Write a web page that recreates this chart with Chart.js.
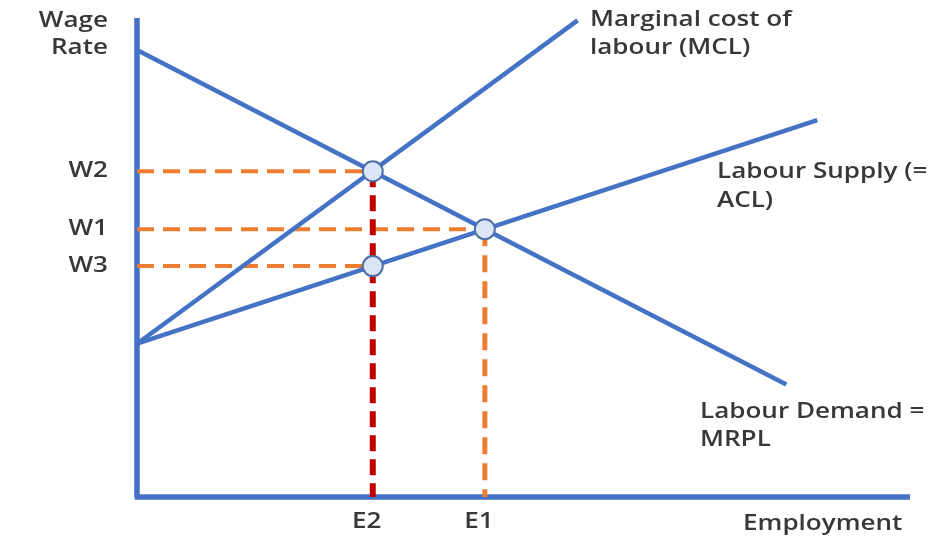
<!DOCTYPE html>
<html>
<head>
<meta charset="utf-8">
<script src="https://cdn.jsdelivr.net/npm/chart.js@4.4.1/dist/chart.umd.min.js"></script>
<style>
  body { margin: 0; background: #fff; }
  #wrap { width: 930px; height: 541px; }
</style>
</head>
<body>
<div id="wrap"><canvas id="labour" width="930" height="541"></canvas></div>
<script>
// wage levels and employment levels marked on the axes
const wageLabels = ['W2', 'W1', 'W3'];
const wageValues = [68, 55.9, 48.2];
const employLabels = ['E2', 'E1'];
const employValues = [30.5, 45];

// the three curves (end points, straight lines)
const demandLine = [{x: 0, y: 93.3}, {x: 84, y: 23.5}];
const mclLine = [{x: 0, y: 32}, {x: 57, y: 99.5}];
const supplyLine = [{x: 0, y: 32}, {x: 88, y: 78.7}];

const BLUE = '#4472C4';
const ORANGE = '#ED7D31';
const RED = '#C00000';

function seg(a, b) { return [a, b]; }

let W2 = wageValues[0], W1 = wageValues[1], W3 = wageValues[2];
let E2 = employValues[0], E1 = employValues[1];

let datasets = [];

// axes drawn as plain lines
datasets.push({ data: seg({x: 0, y: 0}, {x: 0, y: 100}), borderColor: BLUE, borderWidth: 5.5, order: 5 });
datasets.push({ data: seg({x: -0.3, y: 0}, {x: 100, y: 0}), borderColor: BLUE, borderWidth: 5.5, order: 5 });

// dashed guide lines
datasets.push({ data: seg({x: 0, y: W2}, {x: E2, y: W2}), borderColor: ORANGE, borderWidth: 4, borderDash: [17, 9], order: 4 });
datasets.push({ data: seg({x: 0, y: W1}, {x: E1, y: W1}), borderColor: ORANGE, borderWidth: 4, borderDash: [17, 9], order: 4 });
datasets.push({ data: seg({x: 0, y: W3}, {x: E2, y: W3}), borderColor: ORANGE, borderWidth: 4, borderDash: [17, 9], order: 4 });
datasets.push({ data: seg({x: E1, y: W1}, {x: E1, y: 0}), borderColor: ORANGE, borderWidth: 5, borderDash: [17, 9], order: 3 });
datasets.push({ data: seg({x: E2, y: W2}, {x: E2, y: 0}), borderColor: RED, borderWidth: 6, borderDash: [16, 8], order: 3 });

// the curves
datasets.push({ data: demandLine, borderColor: BLUE, borderWidth: 4.5, order: 2 });
datasets.push({ data: mclLine, borderColor: BLUE, borderWidth: 4.5, order: 2 });
datasets.push({ data: supplyLine, borderColor: BLUE, borderWidth: 4.5, order: 2 });

// intersection markers
datasets.push({
  data: [{x: E2, y: W2}, {x: E1, y: W1}, {x: E2, y: W3}],
  showLine: false,
  pointRadius: 10,
  pointBackgroundColor: '#DAE5F5',
  pointBorderColor: '#4F6FA8',
  pointBorderWidth: 2,
  order: 0
});

datasets.forEach(function (d) {
  if (d.pointRadius === undefined) d.pointRadius = 0;
  d.clip = false;
  d.fill = false;
});

// text drawn a little wider than the font normally is
function wideText(ctx, txt, x, y, align) {
  const sx = 1.24;
  const w = ctx.measureText(txt).width * sx;
  let left = x;
  if (align === 'right') left = x - w;
  if (align === 'center') left = x - w / 2;
  ctx.save();
  ctx.translate(left, y);
  ctx.scale(sx, 1);
  ctx.textAlign = 'left';
  ctx.fillText(txt, 0, 0);
  ctx.restore();
}

const textPlugin = {
  id: 'diagramText',
  afterDatasetsDraw(chart) {
    const ctx = chart.ctx;
    const xs = chart.scales.x, ys = chart.scales.y;
    ctx.save();
    ctx.fillStyle = '#383838';
    ctx.font = '600 21px "Open Sans"';
    ctx.textBaseline = 'middle';

    wideText(ctx, 'Wage', 108, 21, 'right');
    wideText(ctx, 'Rate', 108, 48, 'right');
    wageLabels.forEach(function (lab, i) {
      wideText(ctx, lab, 108, ys.getPixelForValue(wageValues[i]), 'right');
    });

    employLabels.forEach(function (lab, i) {
      wideText(ctx, lab, xs.getPixelForValue(employValues[i]) - 6, 522, 'center');
    });

    wideText(ctx, 'Employment', 743, 524, 'left');
    wideText(ctx, 'Marginal cost of', 590, 20, 'left');
    wideText(ctx, 'labour (MCL)', 590, 48, 'left');
    wideText(ctx, 'Labour Supply (=', 717, 172, 'left');
    wideText(ctx, 'ACL)', 717, 201, 'left');
    wideText(ctx, 'Labour Demand =', 700, 412, 'left');
    wideText(ctx, 'MRPL', 700, 440, 'left');
    ctx.restore();
  }
};

new Chart(document.getElementById('labour'), {
  type: 'line',
  data: { datasets: datasets },
  plugins: [textPlugin],
  options: {
    responsive: false,
    animation: false,
    layout: { padding: { left: 137, right: 20, top: 18, bottom: 44 } },
    plugins: { legend: { display: false }, tooltip: { enabled: false } },
    scales: {
      x: { type: 'linear', min: 0, max: 100, display: false },
      y: { type: 'linear', min: 0, max: 100, display: false }
    }
  }
});
</script>
</body>
</html>
